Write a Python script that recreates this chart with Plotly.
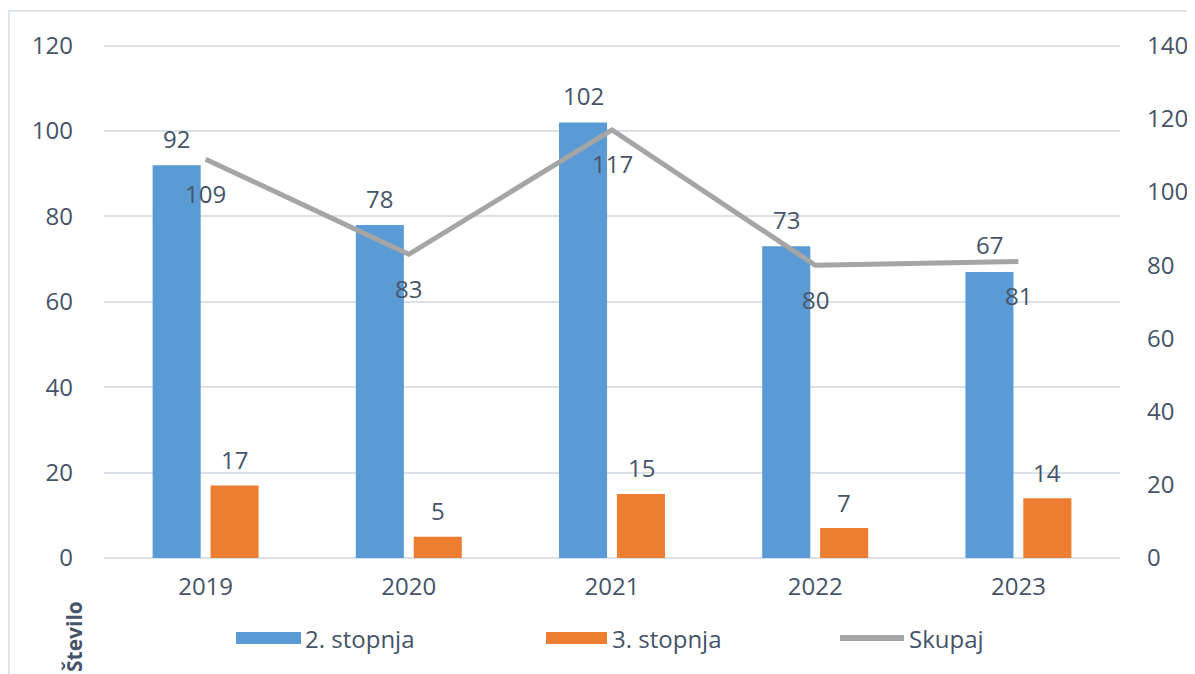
import plotly.graph_objects as go

years = ["2019", "2020", "2021", "2022", "2023"]
stopnja2 = [92, 78, 102, 73, 67]
stopnja3 = [17, 5, 15, 7, 14]
skupaj = [109, 83, 117, 80, 81]
series_names = ["2. stopnja", "3. stopnja", "Skupaj"]
axis_title = "Število"

BLUE = "#5b9bd5"
ORANGE = "#ed7d31"
GRAY = "#a5a5a5"
TXT = "#465368"
GRID = "#dce1e9"
FONT = "Open Sans"
FS = 24

OFF = 8  # page body margin
W, H = 1195, 674
# plot area in window pixels: x 104..1120, y 44..558
L = 104 - OFF
T = 44 - OFF
R = W - (1120 - OFF)
B = H - (558 - OFF)
PW = W - L - R
PH = H - T - B

def px(x):
    return (x - OFF - L) / PW

def py(y):
    return (H - B - (y - OFF)) / PH

fig = go.Figure()
fig.add_trace(go.Bar(x=years, y=stopnja2, name=series_names[0],
                     marker=dict(color=BLUE, line=dict(width=0))))
fig.add_trace(go.Bar(x=years, y=stopnja3, name=series_names[1],
                     marker=dict(color=ORANGE, line=dict(width=0))))
fig.add_trace(go.Scatter(x=years, y=skupaj, name=series_names[2], yaxis="y2",
                         mode="lines", line=dict(color=GRAY, width=5)))

ann = []
def lab(i, y, yref, text, xs=0, ys=0):
    # on a category axis, annotation x is the category index
    return dict(x=i, y=y, xref="x", yref=yref, text=text, showarrow=False,
                xanchor="center", yanchor="middle", xshift=xs, yshift=ys,
                font=dict(family=FONT, size=FS, color=TXT))

for i, v in enumerate(stopnja2):
    ann.append(lab(i, v, "y", str(v), -29, 27))
for i, v in enumerate(stopnja3):
    ann.append(lab(i, v, "y", str(v), 29, 26))
for i, v in enumerate(skupaj):
    ann.append(lab(i, v, "y2", str(v), 0, -34))

# axis title (rotated, bottom-left)
ann.append(dict(x=px(74), y=py(637), xref="paper", yref="paper", text="<b>" + axis_title + "</b>",
                textangle=-90, showarrow=False, xanchor="center", yanchor="middle",
                font=dict(family=FONT, size=21, color=TXT)))

# custom legend
shapes = []
leg_y = py(638)
def legtext(x, text):
    return dict(x=px(x), y=leg_y, xref="paper", yref="paper", text=text,
                xanchor="left", yanchor="middle", showarrow=False,
                font=dict(family=FONT, size=FS, color=TXT))

shapes.append(dict(type="rect", xref="paper", yref="paper", x0=px(236), x1=px(301),
                   y0=py(644), y1=py(632), fillcolor=BLUE, line=dict(width=0)))
ann.append(legtext(303, series_names[0]))
shapes.append(dict(type="rect", xref="paper", yref="paper", x0=px(546), x1=px(607),
                   y0=py(644), y1=py(632), fillcolor=ORANGE, line=dict(width=0)))
ann.append(legtext(610, series_names[1]))
shapes.append(dict(type="line", xref="paper", yref="paper", x0=px(840), x1=px(904),
                   y0=leg_y, y1=leg_y, line=dict(color=GRAY, width=6)))
ann.append(legtext(907, series_names[2]))

# outer frame
shapes.append(dict(type="rect", xref="paper", yref="paper", x0=px(9), x1=px(1300),
                   y0=py(700), y1=py(11), line=dict(color="#dfe3ea", width=2), layer="below"))

fig.update_layout(
    width=W, height=H,
    margin=dict(l=L, r=R, t=T, b=B, autoexpand=False),
    paper_bgcolor="white", plot_bgcolor="white",
    barmode="group", bargap=0.43, bargroupgap=0.17,
    showlegend=False,
    font=dict(family=FONT, size=FS, color=TXT),
    xaxis=dict(type="category", range=[-0.5, len(years) - 0.5], showgrid=False, showline=False,
               ticks="", ticklabelstandoff=12,
               automargin=False, tickfont=dict(family=FONT, size=FS, color=TXT)),
    yaxis=dict(range=[0, 120.4], tickvals=[0, 20, 40, 60, 80, 100, 120],
               showgrid=True, gridcolor=GRID, gridwidth=2,
               zeroline=True, zerolinecolor=GRID, zerolinewidth=2, showline=False,
               ticks="", ticklabelstandoff=30, automargin=False,
               tickfont=dict(family=FONT, size=FS, color=TXT)),
    yaxis2=dict(range=[0, 140.47], tickvals=[0, 20, 40, 60, 80, 100, 120, 140],
                overlaying="y", side="right", showgrid=False,
                zeroline=False, showline=False, ticks="", ticklabelstandoff=26, automargin=False,
                tickfont=dict(family=FONT, size=FS, color=TXT)),
    annotations=ann,
    shapes=shapes,
)

fig.write_html("out.html")
